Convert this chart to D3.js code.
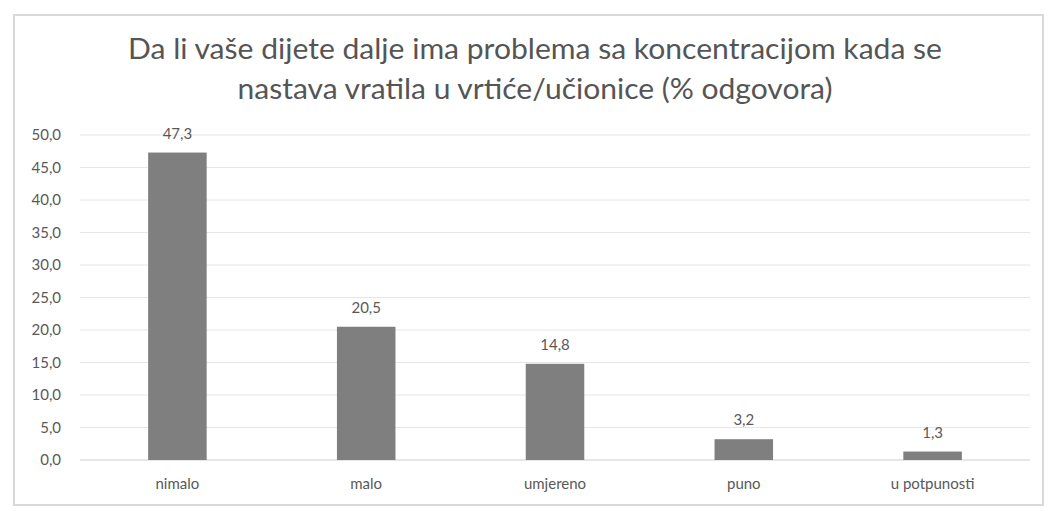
<!DOCTYPE html>
<html><head><meta charset="utf-8">
<script src="https://cdn.jsdelivr.net/npm/d3@7"></script>
<style>body{margin:0;background:#fff;}svg{display:block;}</style>
</head><body>
<svg id="c" width="1050" height="511"></svg>
<script>
const titleLines = ["Da li vaše dijete dalje ima problema sa koncentracijom kada se", "nastava vratila u vrtiće/učionice (% odgovora)"];
const categories = ["nimalo", "malo", "umjereno", "puno", "u potpunosti"];
const values = [47.3, 20.5, 14.8, 3.2, 1.3];
const yTicks = [0, 5, 10, 15, 20, 25, 30, 35, 40, 45, 50];

const svg = d3.select("#c");
const fmt = v => d3.format(".1f")(v).replace(".", ",");
const font = "Lato, 'Open Sans', sans-serif";
const txt = "#595959";

svg.append("rect").attr("x", 14).attr("y", 15).attr("width", 1029).attr("height", 490)
  .attr("fill", "#fff").attr("stroke", "#d9d9d9").attr("stroke-width", 2);

const titleWidths = [814, 595];
svg.selectAll("text.title").data(titleLines).join("text").attr("class", "title")
  .attr("x", 535).attr("y", (d, i) => 59 + i * 40)
  .attr("text-anchor", "middle").attr("font-family", font).attr("font-size", 29)
  .attr("textLength", (d, i) => titleWidths[i]).attr("lengthAdjust", "spacingAndGlyphs")
  .attr("fill", "#555555").text(d => d);

const x = d3.scaleBand().domain(categories).range([83, 1027]).paddingInner(0.69).paddingOuter(0.345);
const y = d3.scaleLinear().domain([0, 50]).range([460, 135]);

const grid = svg.append("g");
grid.selectAll("line").data(yTicks).join("line")
  .attr("x1", 80).attr("x2", 1030).attr("y1", d => y(d)).attr("y2", d => y(d))
  .attr("stroke", "#e6e6e6").attr("stroke-width", 1);

const yAxis = svg.append("g").attr("transform", "translate(66,0)")
  .call(d3.axisLeft(y).tickValues(yTicks).tickFormat(fmt).tickSize(0));
yAxis.select(".domain").remove();
yAxis.selectAll("text").attr("font-family", font).attr("font-size", 15).attr("fill", txt).attr("dx", -2);

svg.append("line").attr("x1", 80).attr("x2", 1030).attr("y1", y(0)).attr("y2", y(0))
  .attr("stroke", "#d9d9d9");

svg.selectAll("rect.bar").data(values).join("rect").attr("class", "bar")
  .attr("x", (d, i) => x(categories[i])).attr("width", x.bandwidth())
  .attr("y", d => y(d)).attr("height", d => y(0) - y(d))
  .attr("fill", "#7f7f7f");

svg.selectAll("text.val").data(values).join("text").attr("class", "val")
  .attr("x", (d, i) => x(categories[i]) + x.bandwidth() / 2).attr("y", d => y(d) - 14)
  .attr("text-anchor", "middle").attr("font-family", font).attr("font-size", 15)
  .attr("fill", txt).text(fmt);

const xAxis = svg.append("g").attr("transform", `translate(0,${y(0)})`)
  .call(d3.axisBottom(x).tickSize(0));
xAxis.select(".domain").remove();
xAxis.selectAll("text").attr("font-family", font).attr("font-size", 15).attr("fill", txt).attr("dy", "1.75em");
</script>
</body></html>
